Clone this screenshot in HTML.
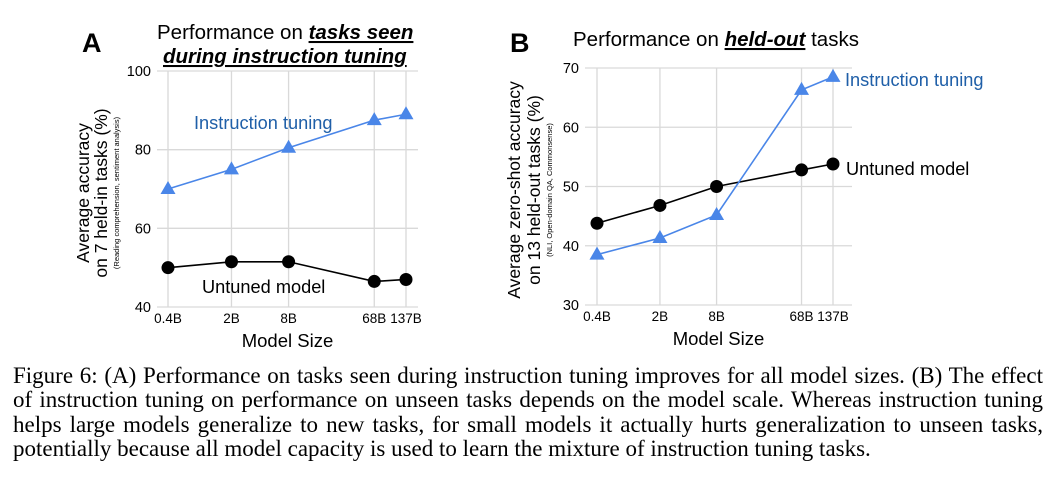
<!DOCTYPE html>
<html><head><meta charset="utf-8"><style>
body{margin:0;background:#fff;width:1055px;height:477px;overflow:hidden}
svg text{font-family:"Liberation Sans",sans-serif}
#cap{position:absolute;left:13px;top:364px;width:1030px;font-family:"Liberation Serif",serif;font-size:23px;line-height:24.3px;color:#000}
#cap div{text-align:justify;text-align-last:justify;white-space:nowrap;word-spacing:-1px}
#cap div.last{text-align-last:left;word-spacing:0}
</style></head><body>
<svg id="svg" width="1055" height="360" style="position:absolute;left:0;top:0">
<text x="82" y="52" font-size="27" font-weight="bold">A</text>
<text x="157" y="39" font-size="20.5">Performance on <tspan font-weight="bold" font-style="italic" text-decoration="underline">tasks seen</tspan></text>
<text x="163" y="63" font-size="20.5" font-weight="bold" font-style="italic" text-decoration="underline">during instruction tuning</text>
<text x="510" y="52" font-size="27" font-weight="bold">B</text>
<text x="573" y="46" font-size="20.5">Performance on <tspan font-weight="bold" font-style="italic" text-decoration="underline">held-out</tspan> tasks</text>
<g id="ga"></g><g id="gb"></g>
</svg>
<div id="cap">
<div>Figure 6: (A) Performance on tasks seen during instruction tuning improves for all model sizes. (B) The effect</div>
<div>of instruction tuning on performance on unseen tasks depends on the model scale. Whereas instruction tuning</div>
<div>helps large models generalize to new tasks, for small models it actually hurts generalization to unseen tasks,</div>
<div class="last">potentially because all model capacity is used to learn the mixture of instruction tuning tasks.</div>
</div>
<script>
const categories=["0.4B","2B","8B","68B","137B"];
const catPos=[0,1,1.9,3.25,3.75];
const aInstr=[70,75,80.5,87.5,89];
const aUntuned=[50,51.5,51.5,46.5,47];
const aTicks=[40,60,80,100];
const bInstr=[38.5,41.3,45.2,66.3,68.5];
const bUntuned=[43.8,46.8,50,52.8,53.8];
const bTicks=[30,40,50,60,70];
const NS="http://www.w3.org/2000/svg";
function mk(g,tag,attrs){const e=document.createElementNS(NS,tag);for(const k in attrs)e.setAttribute(k,attrs[k]);g.appendChild(e);return e;}
function panel(g,cfg){
  const xs=i=>cfg.x0+(cfg.x1-cfg.x0)*catPos[i]/catPos[4];
  const ys=v=>cfg.yb-(v-cfg.ymin)/(cfg.ymax-cfg.ymin)*(cfg.yb-cfg.yt);
  cfg.ticks.forEach(t=>{
    const l=mk(g,'line',{x1:cfg.px0,x2:cfg.px1,y1:ys(t),y2:ys(t),stroke:'#d9d9d9','stroke-width':1.3});
    
    const tx=mk(g,'text',{x:cfg.px0-6,y:ys(t)+5,'font-size':14.5,'text-anchor':'end'});tx.textContent=t;
    
  });
  categories.forEach((c,i)=>{
    const l=mk(g,'line',{x1:xs(i),x2:xs(i),y1:cfg.yt,y2:cfg.yb,stroke:'#d9d9d9','stroke-width':1.3});
    
    const tx=mk(g,'text',{x:xs(i),y:cfg.yb+16,'font-size':13.5,'text-anchor':'middle'});tx.textContent=c;
    
  });
  const tt=mk(g,'text',{x:(cfg.px0+cfg.px1)/2,y:cfg.yb+40,'font-size':18.5,'text-anchor':'middle'});tt.textContent='Model Size';
  
  [[cfg.untuned,'#000','untuned'],[cfg.instr,'#4a86e8','instruction']].forEach(([d,col,nm])=>{
    const p=mk(g,'polyline',{points:d.map((v,i)=>xs(i)+','+ys(v)).join(' '),fill:'none',stroke:col,'stroke-width':1.6});
    
    d.forEach((v,i)=>{
      let m;
      if(nm==='untuned') m=mk(g,'circle',{cx:xs(i),cy:ys(v),r:6.5,fill:'#000'});
      else {const x=xs(i),y=ys(v);m=mk(g,'polygon',{points:`${x},${y-8} ${x-7.5},${y+5} ${x+7.5},${y+5}`,fill:col});}
      
    });
  });
}
panel(document.getElementById('ga'),{x0:168,x1:406,px0:157,px1:418,yt:71,yb:307,ymin:40,ymax:100,ticks:aTicks,instr:aInstr,untuned:aUntuned});
panel(document.getElementById('gb'),{x0:597,x1:833,px0:585,px1:852,yt:68,yb:305,ymin:30,ymax:70,ticks:bTicks,instr:bInstr,untuned:bUntuned});
</script>
<svg width="1055" height="360" style="position:absolute;left:0;top:0">
<text x="194" y="129" font-size="18.2" fill="#1f5fa8">Instruction tuning</text>
<text x="202" y="293" font-size="18.2">Untuned model</text>
<text x="845" y="86" font-size="18.2" fill="#1f5fa8">Instruction tuning</text>
<text x="846" y="175" font-size="18.2">Untuned model</text>
<g transform="translate(89,193) rotate(-90)"><text x="0" y="0" font-size="17.5" text-anchor="middle">Average accuracy</text></g>
<g transform="translate(107,193) rotate(-90)"><text x="0" y="0" font-size="17.5" text-anchor="middle">on 7 held-in tasks (%)</text></g>
<g transform="translate(119,193) rotate(-90)"><text x="0" y="0" font-size="7.5" text-anchor="middle">(Reading comprehension, sentiment analysis)</text></g>
<g transform="translate(520,190) rotate(-90)"><text x="0" y="0" font-size="17.5" text-anchor="middle">Average zero-shot accuracy</text></g>
<g transform="translate(540,190) rotate(-90)"><text x="0" y="0" font-size="17.5" text-anchor="middle">on 13 held-out tasks (%)</text></g>
<g transform="translate(552,190) rotate(-90)"><text x="0" y="0" font-size="7.5" text-anchor="middle">(NLI, Open-domain QA, Commonsense)</text></g>
</svg>
</body></html>
